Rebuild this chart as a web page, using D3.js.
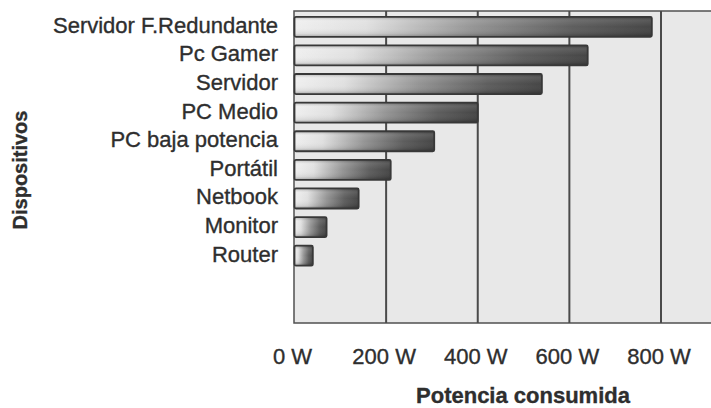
<!DOCTYPE html>
<html><head><meta charset="utf-8">
<script src="https://cdn.jsdelivr.net/npm/d3@7"></script>
<style>
html,body{margin:0;padding:0;background:#fff;}
svg{display:block;}
text{font-family:"Liberation Sans",Arial,sans-serif;fill:#2e2e2e;stroke:#2e2e2e;stroke-width:0.35px;}
</style></head>
<body>
<script>
const categories = ["Servidor F.Redundante","Pc Gamer","Servidor","PC Medio","PC baja potencia","Portátil","Netbook","Monitor","Router"];
const values = [780, 640, 540, 400, 305, 210, 140, 70, 40];
const tickValues = [0, 200, 400, 600, 800];
const tickLabels = ["0 W","200 W","400 W","600 W","800 W"];
const xTitle = "Potencia consumida";
const yTitle = "Dispositivos";

const W = 711, H = 408;
const plot = {left: 294, top: 11, bottom: 323, right: 716};

const svg = d3.select("body").append("svg").attr("width", W).attr("height", H);
const defs = svg.append("defs");

const hg = defs.append("linearGradient").attr("id","hgrad").attr("x1","0").attr("x2","1").attr("y1","0").attr("y2","0");
[[0,"#efefef"],[0.2,"#e0e0e0"],[0.5,"#959595"],[0.78,"#5e5e5e"],[1,"#464646"]].forEach(([o,c]) =>
  hg.append("stop").attr("offset", o).attr("stop-color", c));
const vg = defs.append("linearGradient").attr("id","vgrad").attr("x1","0").attr("x2","0").attr("y1","0").attr("y2","1");
[[0,"#000",0.25],[0.2,"#fff",0.1],[0.5,"#fff",0.0],[0.85,"#000",0.08],[1,"#000",0.3]].forEach(([o,c,a]) =>
  vg.append("stop").attr("offset", o).attr("stop-color", c).attr("stop-opacity", a));

const x = d3.scaleLinear().domain([0, 800]).range([294.5, 661]);
const y = d3.scaleBand().domain(categories).range([12.5, 270]).paddingInner(0.3).paddingOuter(0.15);

// plot background
svg.append("rect").attr("x", plot.left).attr("y", plot.top)
  .attr("width", plot.right - plot.left).attr("height", plot.bottom - plot.top)
  .attr("fill", "#e8e8e8").attr("stroke", "#505050").attr("stroke-width", 1.5);

// gridlines
svg.append("g").selectAll("line").data(tickValues.slice(1)).join("line")
  .attr("x1", d => x(d)).attr("x2", d => x(d))
  .attr("y1", plot.top).attr("y2", plot.bottom)
  .attr("stroke", "#4a4a4a").attr("stroke-width", 2);

// bars
const bars = svg.append("g").selectAll("g").data(categories).join("g");
bars.append("rect")
  .attr("x", x(0)).attr("y", d => y(d))
  .attr("width", (d,i) => x(values[i]) - x(0)).attr("height", y.bandwidth())
  .attr("fill", "url(#hgrad)");
bars.append("rect")
  .attr("x", x(0)).attr("y", d => y(d))
  .attr("width", (d,i) => x(values[i]) - x(0)).attr("height", y.bandwidth())
  .attr("fill", "url(#vgrad)").attr("stroke", "#383838").attr("stroke-width", 1.8).attr("rx", 1.5);

// category labels
svg.append("g").selectAll("text").data(categories).join("text")
  .attr("x", 278).attr("y", d => y(d) + y.bandwidth()/2 - 2)
  .attr("dy", "0.36em").attr("text-anchor", "end")
  .attr("font-size", 22).text(d => d);

// x tick labels
svg.append("g").selectAll("text").data(tickValues).join("text")
  .attr("x", d => x(d) - 2).attr("y", 364)
  .attr("text-anchor", "middle").attr("font-size", 22)
  .text((d,i) => tickLabels[i]);

// axis titles
svg.append("text").attr("x", 523).attr("y", 403).attr("text-anchor", "middle")
  .attr("font-size", 22).attr("font-weight", "bold").text(xTitle);
svg.append("text").attr("transform", "translate(27,170) rotate(-90)")
  .attr("text-anchor", "middle").attr("font-size", 20).attr("font-weight", "bold").text(yTitle);
</script>
</body></html>
